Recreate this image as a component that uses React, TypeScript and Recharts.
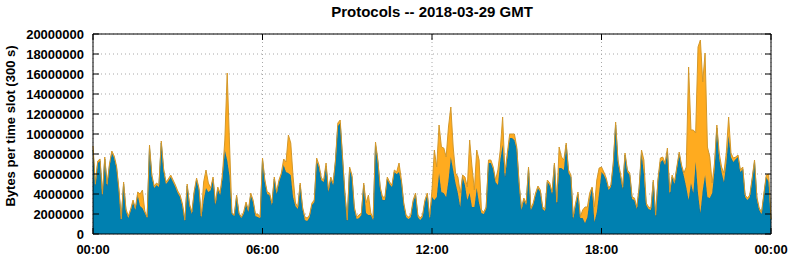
import React from 'react';
import { AreaChart, Area, XAxis, YAxis, CartesianGrid, ReferenceArea } from 'recharts';

const TITLE = 'Protocols -- 2018-03-29 GMT';
const Y_LABEL = 'Bytes per time slot (300 s)';
const SLOT_MINUTES = 5;
const X_TICKS = [0, 360, 720, 1080, 1440];
const X_TICK_LABELS = ['00:00', '06:00', '12:00', '18:00', '00:00'];
const Y_TICKS = [0, 2000000, 4000000, 6000000, 8000000, 10000000, 12000000, 14000000, 16000000, 18000000, 20000000];

// bottom series (blue), millions of bytes per 5-minute slot
const BLUE_MB = [
  8.4, 4.8, 7.1, 7.3, 3.8, 7.5, 4.8, 6.8, 8.1, 7.6,
  6.6, 4.3, 1.4, 5.0, 2.3, 1.6, 2.3, 3.2, 2.4, 3.9,
  2.8, 2.6, 2.1, 1.6, 8.6, 5.7, 4.6, 4.9, 4.7, 9.1,
  6.3, 5.0, 5.3, 5.7, 5.2, 4.7, 4.1, 3.7, 2.8, 1.3,
  4.8, 2.8, 2.0, 4.1, 5.4, 4.4, 1.6, 3.4, 4.6, 4.2,
  4.4, 5.5, 2.9, 4.5, 3.9, 5.6, 8.4, 7.4, 5.8, 2.0,
  1.8, 3.7, 2.0, 1.6, 2.0, 3.0, 2.2, 3.9, 3.2, 1.8,
  1.7, 1.6, 7.4, 5.2, 4.0, 3.9, 2.9, 5.5, 4.0, 5.2,
  5.9, 6.9, 6.2, 6.1, 5.9, 3.7, 2.8, 2.5, 4.9, 2.5,
  1.4, 1.3, 1.7, 2.9, 3.2, 7.3, 6.7, 5.4, 5.2, 6.8,
  4.2, 5.5, 4.9, 7.2, 10.8, 11.1, 7.5, 3.9, 1.3, 6.5,
  5.7, 2.5, 1.5, 1.6, 1.9, 4.9, 2.1, 1.9, 1.9, 1.4,
  8.9, 7.2, 4.5, 3.4, 3.4, 5.5, 5.0, 4.7, 6.2, 6.0,
  6.2, 5.2, 2.9, 1.7, 1.5, 1.7, 3.2, 3.9, 1.7, 1.4,
  1.7, 3.2, 3.9, 1.5, 3.7, 3.4, 3.7, 6.1, 4.2, 4.1,
  3.7, 5.4, 7.7, 6.4, 5.1, 4.1, 2.7, 5.7, 4.9, 3.4,
  4.1, 2.7, 2.7, 4.6, 3.1, 2.1, 2.0, 2.5, 7.1, 7.1,
  6.5, 5.2, 4.9, 7.4, 8.9, 5.7, 7.7, 9.6, 9.6, 9.4,
  8.5, 4.9, 2.4, 3.4, 2.9, 6.5, 2.4, 2.9, 3.9, 4.6,
  4.2, 2.5, 2.3, 5.2, 4.9, 4.0, 6.9, 3.0, 6.6, 6.6,
  6.4, 8.9, 6.1, 5.7, 1.5, 2.9, 4.0, 1.6, 1.6, 1.1,
  1.7, 3.6, 4.6, 1.2, 2.2, 4.2, 6.2, 5.9, 5.4, 4.4,
  4.7, 6.9, 10.9, 7.2, 5.9, 4.5, 7.9, 6.2, 5.9, 3.5,
  3.4, 2.5, 4.5, 8.1, 6.1, 2.9, 2.5, 2.4, 5.2, 1.7,
  5.3, 7.2, 7.4, 6.9, 8.2, 4.0, 5.7, 5.0, 6.5, 8.0,
  6.7, 5.8, 4.7, 3.4, 5.1, 4.1, 7.2, 4.1, 2.1, 4.4,
  5.9, 3.7, 3.6, 4.1, 6.4, 10.6, 7.6, 6.2, 5.2, 7.1,
  9.8, 7.7, 7.2, 7.5, 7.7, 6.2, 6.5, 3.7, 3.4, 3.7,
  5.4, 7.2, 3.5, 2.4, 2.0, 3.9, 5.7, 5.2, 1.4,
];

// top series (orange), millions of bytes per 5-minute slot
const ORANGE_MB = [
  0.4, 0.2, 0.2, 0.2, 0.2, 0.2, 0.2, 0.2, 0.2, 0.2,
  0.2, 0.2, 0.1, 0.2, 0.2, 0.2, 0.2, 0.2, 0.2, 0.3,
  1.2, 1.8, 0.2, 0.1, 0.3, 0.2, 0.2, 0.2, 0.2, 0.2,
  0.2, 0.2, 0.2, 0.2, 0.2, 0.2, 0.2, 0.2, 0.2, 0.1,
  0.2, 0.2, 0.2, 0.2, 0.2, 0.2, 0.2, 1.8, 1.8, 0.9,
  0.2, 0.2, 0.2, 0.2, 0.2, 0.4, 1.0, 8.7, 3.2, 0.1,
  0.1, 0.2, 0.1, 0.1, 0.2, 0.2, 0.2, 0.2, 0.2, 0.2,
  0.3, 0.1, 0.2, 0.2, 0.2, 0.2, 0.2, 0.2, 0.2, 0.2,
  0.2, 0.6, 1.0, 3.8, 3.2, 2.0, 0.3, 0.2, 0.2, 0.2,
  0.3, 0.3, 0.2, 0.2, 0.2, 0.3, 0.2, 0.2, 0.2, 0.3,
  0.2, 0.2, 0.2, 0.2, 0.3, 0.3, 0.2, 0.2, 0.1, 0.2,
  0.2, 0.2, 0.2, 0.3, 0.2, 0.2, 1.0, 2.0, 0.2, 0.2,
  0.3, 0.2, 0.2, 0.3, 0.3, 0.2, 0.2, 0.2, 0.2, 0.2,
  0.9, 0.2, 0.2, 0.2, 0.2, 0.2, 0.2, 0.2, 0.2, 0.2,
  0.2, 0.2, 0.2, 0.2, 0.7, 5.0, 3.0, 4.8, 4.5, 4.5,
  4.0, 5.3, 5.0, 2.3, 1.0, 1.6, 1.4, 0.2, 0.8, 1.3,
  5.3, 4.0, 1.7, 3.8, 4.3, 0.3, 0.2, 0.2, 0.3, 0.3,
  0.2, 0.2, 1.5, 1.0, 2.8, 0.4, 0.4, 0.4, 0.4, 0.6,
  0.2, 0.2, 0.2, 0.2, 0.2, 0.2, 0.2, 0.2, 0.2, 0.2,
  0.2, 0.2, 0.2, 0.2, 0.2, 0.2, 0.2, 0.2, 2.1, 1.1,
  1.0, 0.2, 0.3, 0.2, 0.2, 0.2, 0.2, 0.1, 0.8, 1.6,
  1.0, 0.5, 0.1, 1.5, 3.2, 2.4, 0.5, 0.3, 0.2, 0.2,
  0.2, 0.2, 0.3, 0.2, 0.2, 0.2, 0.2, 0.2, 0.2, 0.2,
  0.2, 0.2, 0.2, 0.3, 1.3, 0.2, 0.2, 0.2, 0.2, 0.2,
  0.2, 0.4, 0.3, 0.2, 0.4, 0.2, 0.2, 0.2, 0.2, 0.2,
  0.2, 0.3, 2.0, 13.3, 5.3, 6.3, 2.9, 14.6, 17.3, 10.8,
  12.2, 5.0, 4.1, 1.0, 0.7, 0.3, 0.5, 0.5, 0.9, 1.0,
  1.9, 0.4, 0.4, 0.2, 0.2, 0.2, 0.2, 0.2, 0.2, 0.2,
  0.2, 0.2, 0.2, 0.2, 0.2, 0.2, 0.2, 0.8, 0.1,
];

const data = BLUE_MB.map((b, i) => ({
  t: i * SLOT_MINUTES,
  blue: b * 1000000,
  orange: ORANGE_MB[i] * 1000000,
}));

const W = 792;
const H = 259;
const PLOT_LEFT = 93;
const PLOT_RIGHT = 771;
const PLOT_TOP = 34;
const PLOT_BOTTOM = 234;
const FONT = '"Liberation Sans", Arial, Helvetica, sans-serif';

const YTick = (props: any) => {
  const { y, payload } = props;
  return (
    <g>
      <line x1={PLOT_LEFT} x2={PLOT_LEFT + 6} y1={y} y2={y} stroke="#000" strokeWidth={1} />
      <line x1={PLOT_RIGHT - 6} x2={PLOT_RIGHT} y1={y} y2={y} stroke="#000" strokeWidth={1} />
      <text x={PLOT_LEFT - 9} y={y} dy={4.6} textAnchor="end" fontFamily={FONT} fontWeight="bold" fontSize={13} fill="#000">
        {String(payload.value)}
      </text>
    </g>
  );
};

const XTick = (props: any) => {
  const { x, payload } = props;
  const idx = X_TICKS.indexOf(payload.value);
  return (
    <g>
      <line x1={x} x2={x} y1={PLOT_BOTTOM} y2={PLOT_BOTTOM - 6} stroke="#000" strokeWidth={1} />
      <line x1={x} x2={x} y1={PLOT_TOP} y2={PLOT_TOP + 6} stroke="#000" strokeWidth={1} />
      <text x={x} y={PLOT_BOTTOM + 20} textAnchor="middle" fontFamily={FONT} fontWeight="bold" fontSize={13} fill="#000">
        {X_TICK_LABELS[idx]}
      </text>
    </g>
  );
};

export default function App() {
  return (
    <div style={{ position: 'absolute', left: 0, top: 0, width: W, height: H, background: '#fff' }}>
      <AreaChart
        width={W}
        height={H}
        data={data}
        margin={{ top: PLOT_TOP, right: W - PLOT_RIGHT, bottom: 0, left: 0 }}
      >
        <CartesianGrid stroke="#a8a8a8" strokeDasharray="1 3" />
        <XAxis
          dataKey="t"
          type="number"
          domain={[0, 1440]}
          ticks={X_TICKS}
          height={H - PLOT_BOTTOM}
          axisLine={false}
          tickLine={false}
          tick={<XTick />}
          interval={0}
        />
        <YAxis
          type="number"
          domain={[0, 20000000]}
          ticks={Y_TICKS}
          width={PLOT_LEFT}
          axisLine={false}
          tickLine={false}
          tick={<YTick />}
          interval={0}
          label={{
            value: Y_LABEL,
            angle: -90,
            position: 'insideLeft',
            offset: 0,
            style: { fontFamily: FONT, fontWeight: 'bold', fontSize: 13, fill: '#000', textAnchor: 'middle' },
            dx: 10,
            dy: -8,
          }}
        />
        <Area
          type="linear"
          dataKey="blue"
          stackId="1"
          fill="#0080b0"
          fillOpacity={1}
          stroke="#1d6f8f"
          strokeWidth={1}
          isAnimationActive={false}
        />
        <Area
          type="linear"
          dataKey="orange"
          stackId="1"
          fill="#ffab1f"
          fillOpacity={1}
          stroke="#d3982a"
          strokeWidth={1}
          isAnimationActive={false}
        />
        <ReferenceArea x1={0} x2={1440} y1={0} y2={20000000} fill="none" stroke="#000" strokeWidth={1} ifOverflow="visible" />
        <text x={(PLOT_LEFT + PLOT_RIGHT) / 2} y={17} textAnchor="middle" fontFamily={FONT} fontWeight="bold" fontSize={15} fill="#000">
          {TITLE}
        </text>
      </AreaChart>
    </div>
  );
}
